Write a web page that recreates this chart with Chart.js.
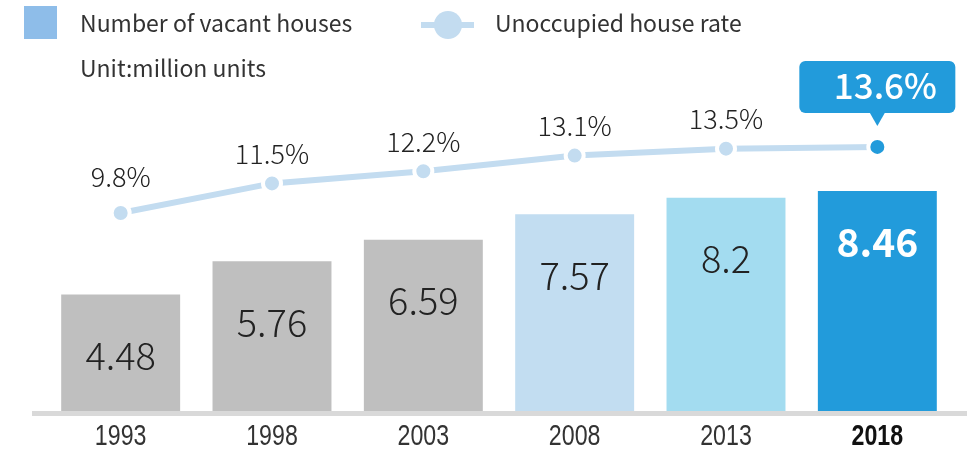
<!DOCTYPE html>
<html>
<head>
<meta charset="utf-8">
<script src="https://cdn.jsdelivr.net/npm/chart.js@4/dist/chart.umd.min.js"></script>
<style>
html,body{margin:0;padding:0;background:#fff;}
#wrap{width:967px;height:449px;position:relative;}
</style>
</head>
<body>
<div id="wrap"><canvas id="c" width="967" height="449"></canvas></div>
<script>
const categories = ['1993', '1998', '2003', '2008', '2013', '2018'];
const vacantHouses = [4.48, 5.76, 6.59, 7.57, 8.2, 8.46];
const vacancyRate = [9.8, 11.5, 12.2, 13.1, 13.5, 13.6];
const barLabels = ['4.48', '5.76', '6.59', '7.57', '8.2', '8.46'];
const rateLabels = ['9.8%', '11.5%', '12.2%', '13.1%', '13.5%', '13.6%'];
const seriesNames = ['Number of vacant houses', 'Unoccupied house rate'];
const unitNote = 'Unit:million units';

const barColors = ['#bfbfbf', '#bfbfbf', '#bfbfbf', '#c2ddf1', '#a3dcf0', '#229bdb'];
const lineColor = '#c3dcf0';
const accent = '#229bdb';
const textColor = '#333333';
const FONT = '"Noto Sans CJK JP", "Noto Sans", sans-serif';
const last = categories.length - 1;

const overlay = {
  id: 'overlay',
  afterDatasetsDraw(chart) {
    const ctx = chart.ctx;
    const xs = chart.scales.x, yb = chart.scales.y, yr = chart.scales.y2;
    const bottom = chart.chartArea.bottom;
    ctx.save();
    // baseline
    ctx.fillStyle = '#d9d9d9';
    ctx.fillRect(32, bottom, 935, 5);

    // bar value labels
    ctx.textAlign = 'center';
    ctx.textBaseline = 'middle';
    vacantHouses.forEach((v, i) => {
      const x = xs.getPixelForValue(i);
      const top = yb.getPixelForValue(v);
      if (i === last) {
        ctx.font = 'bold 39px ' + FONT;
        ctx.fillStyle = '#ffffff';
        ctx.fillText(barLabels[i], x, top + 51);
      } else {
        ctx.font = '300 38px ' + FONT;
        ctx.fillStyle = '#222222';
        ctx.fillText(barLabels[i], x, top + 61);
      }
    });

    // rate labels
    vacancyRate.forEach((r, i) => {
      const x = xs.getPixelForValue(i);
      const y = yr.getPixelForValue(r);
      if (i === last) {
        const bw = 156, bh = 52, bx = x - bw / 2, by = y - 34 - bh;
        ctx.fillStyle = accent;
        ctx.beginPath();
        ctx.roundRect(bx, by, bw, bh, 6);
        ctx.fill();
        ctx.beginPath();
        ctx.moveTo(x - 8, by + bh - 1);
        ctx.lineTo(x + 8, by + bh - 1);
        ctx.lineTo(x, y - 21);
        ctx.closePath();
        ctx.fill();
        ctx.fillStyle = '#ffffff';
        ctx.font = '500 35px ' + FONT;
        ctx.fillText(rateLabels[i], x + 8, by + bh / 2 - 1);
      } else {
        ctx.font = '300 27px ' + FONT;
        ctx.fillStyle = '#222222';
        ctx.fillText(rateLabels[i], x, y - (i === 0 ? 36 : 30));
      }
    });

    // x tick labels (condensed)
    categories.forEach((c, i) => {
      const x = xs.getPixelForValue(i);
      ctx.save();
      ctx.translate(x, 437);
      ctx.scale(0.8, 1);
      ctx.font = (i === last ? 'bold ' : '') + '29px "Liberation Sans", Arial, sans-serif';
      ctx.fillStyle = i === last ? '#111111' : textColor;
      ctx.fillText(c, 0, 0);
      ctx.restore();
    });

    // legend
    ctx.textAlign = 'left';
    ctx.fillStyle = '#8ebde9';
    ctx.fillRect(24, 6, 33, 33);
    ctx.font = '23px ' + FONT;
    ctx.fillStyle = textColor;
    ctx.fillText(seriesNames[0], 80, 23);
    ctx.fillText(unitNote, 80, 68);
    ctx.fillStyle = lineColor;
    ctx.fillRect(421, 22, 53, 6);
    ctx.beginPath();
    ctx.arc(448, 25, 14, 0, Math.PI * 2);
    ctx.fill();
    ctx.fillStyle = textColor;
    ctx.fillText(seriesNames[1], 495, 23);
    ctx.restore();
  }
};

new Chart(document.getElementById('c'), {
  data: {
    labels: categories,
    datasets: [
      {
        type: 'line',
        label: seriesNames[1],
        data: vacancyRate,
        yAxisID: 'y2',
        borderColor: lineColor,
        borderWidth: 6,
        tension: 0,
        pointRadius: 9,
        pointBorderWidth: 4,
        pointBorderColor: '#ffffff',
        pointBackgroundColor: vacancyRate.map((_, i) => i === last ? accent : lineColor),
        order: 0
      },
      {
        type: 'bar',
        label: seriesNames[0],
        data: vacantHouses,
        yAxisID: 'y',
        backgroundColor: barColors,
        barPercentage: 0.786,
        categoryPercentage: 1,
        order: 1
      }
    ]
  },
  options: {
    responsive: false,
    animation: false,
    events: [],
    layout: { padding: { left: 45, right: 14, top: 100, bottom: 38 } },
    plugins: { legend: { display: false }, tooltip: { enabled: false } },
    scales: {
      x: { display: false, offset: true, grid: { display: false } },
      y: { display: false, min: 0, max: 11.96 },
      y2: { display: false, min: -1.6, max: 16.3, position: 'right' }
    }
  },
  plugins: [overlay]
});
</script>
</body>
</html>
